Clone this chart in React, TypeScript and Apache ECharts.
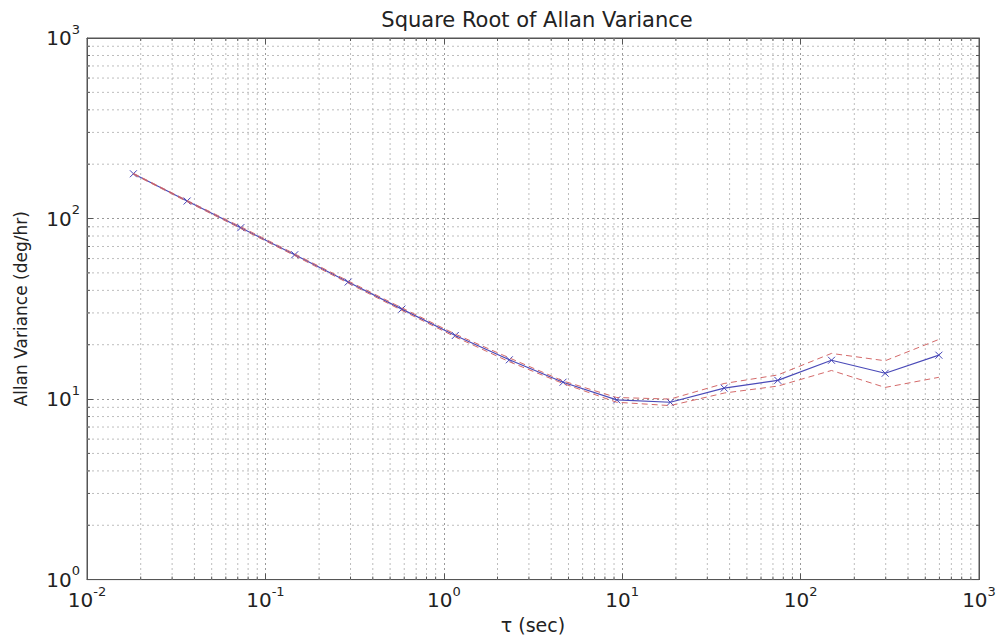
import React, { useEffect, useRef } from "react";
import * as echarts from "echarts";

// averaging time tau (s)
const tau = [0.0182, 0.0364, 0.0728, 0.146, 0.291, 0.582, 1.16, 2.33, 4.66, 9.32, 18.6, 37.3, 74.5, 149, 298, 596];
// square root of Allan variance (deg/hr)
const allanDev = [177, 125, 89, 63, 44.5, 31.5, 22.5, 16.5, 12.4, 9.9, 9.6, 11.5, 12.7, 16.4, 13.9, 17.5];
const upperBound = [178, 126, 90, 63.7, 45.1, 32.0, 22.9, 16.9, 12.6, 10.2, 10.0, 12.2, 13.6, 17.9, 16.3, 21.4];
const lowerBound = [176, 124, 88, 62.3, 43.9, 31.0, 22.1, 16.1, 12.2, 9.6, 9.2, 10.8, 11.8, 14.4, 11.6, 13.2];

// axis structure
const xMin = 0.01;
const xMax = 1000;
const yMin = 1;
const yMax = 1000;
const xDecadeStarts = [0.01, 0.1, 1, 10, 100];
const yDecadeStarts = [1, 10, 100];
const minorMultipliers = [2, 3, 4, 5, 6, 7, 8, 9];

const FONT = "DejaVu Sans";
const TEXT = "#222";
const AXIS = "#555";

const minorX = xDecadeStarts.flatMap((d) => minorMultipliers.map((m) => d * m));
const minorY = yDecadeStarts.flatMap((d) => minorMultipliers.map((m) => d * m));

const powLabel = (v: number) => {
  const e = Math.round(Math.log10(v));
  return `{b|10}{e|${e}}`;
};

const labelRich = {
  b: { fontSize: 20, fontFamily: FONT, color: TEXT },
  e: { fontSize: 13, fontFamily: FONT, color: TEXT, padding: [0, 0, 18, 0] },
};

export default function App() {
  const ref = useRef<HTMLDivElement>(null);

  useEffect(() => {
    if (!ref.current) return;
    const chart = echarts.init(ref.current, undefined, { renderer: "svg" });

    const minorStyle = { stroke: "#bdbdbd", lineWidth: 1, lineDash: [2, 3] };

    const option: any = {
      animation: false,
      backgroundColor: "#fff",
      title: {
        text: "Square Root of Allan Variance",
        left: 532,
        top: 4,
        textAlign: "center",
        textStyle: { fontFamily: FONT, fontSize: 21, fontWeight: "normal", color: TEXT },
      },
      grid: {
        left: 87,
        right: 21,
        top: 38,
        bottom: 55,
        show: true,
        borderColor: AXIS,
        borderWidth: 1,
        backgroundColor: "transparent",
      },
      xAxis: [
        {
          type: "log",
          logBase: 10,
          min: xMin,
          max: xMax,
          position: "bottom",
          name: "τ (sec)",
          nameLocation: "middle",
          nameGap: 35,
          nameTextStyle: { fontFamily: FONT, fontSize: 19, color: TEXT },
          axisLine: { show: true, lineStyle: { color: AXIS } },
          axisTick: { show: true, inside: true, length: 6, lineStyle: { color: AXIS } },
          axisLabel: { formatter: powLabel, rich: labelRich, margin: 5 },
          splitLine: { show: true, lineStyle: { color: "#999", type: [2, 3], width: 1 } },
        },
        {
          type: "log",
          logBase: 10,
          min: xMin,
          max: xMax,
          position: "top",
          axisLine: { show: true, lineStyle: { color: AXIS } },
          axisTick: { show: true, inside: true, length: 6, lineStyle: { color: AXIS } },
          axisLabel: { show: false },
          splitLine: { show: false },
        },
      ],
      yAxis: [
        {
          type: "log",
          logBase: 10,
          min: yMin,
          max: yMax,
          position: "left",
          name: "Allan Variance (deg/hr)",
          nameLocation: "middle",
          nameGap: 58,
          nameTextStyle: { fontFamily: FONT, fontSize: 17, color: TEXT },
          axisLine: { show: true, lineStyle: { color: AXIS } },
          axisTick: { show: true, inside: true, length: 6, lineStyle: { color: AXIS } },
          axisLabel: { formatter: powLabel, rich: labelRich, margin: 7 },
          splitLine: { show: true, lineStyle: { color: "#999", type: [2, 3], width: 1 } },
        },
        {
          type: "log",
          logBase: 10,
          min: yMin,
          max: yMax,
          position: "right",
          axisLine: { show: true, lineStyle: { color: AXIS } },
          axisTick: { show: true, inside: true, length: 6, lineStyle: { color: AXIS } },
          axisLabel: { show: false },
          splitLine: { show: false },
        },
      ],
      series: [
        {
          type: "custom",
          name: "minorX",
          silent: true,
          z: 1,
          xAxisIndex: 0,
          yAxisIndex: 0,
          encode: { x: 0, y: 1 },
          data: minorX.map((v) => [v, yMin]),
          renderItem: (params: any, api: any) => {
            const x = api.coord([api.value(0), yMin])[0];
            const cs = params.coordSys;
            const bottom = cs.y + cs.height;
            return {
              type: "group",
              children: [
                { type: "line", shape: { x1: x, y1: cs.y, x2: x, y2: bottom }, style: minorStyle },
                { type: "line", shape: { x1: x, y1: bottom, x2: x, y2: bottom - 3 }, style: { stroke: AXIS, lineWidth: 1 } },
                { type: "line", shape: { x1: x, y1: cs.y, x2: x, y2: cs.y + 3 }, style: { stroke: AXIS, lineWidth: 1 } },
              ],
            };
          },
        },
        {
          type: "custom",
          name: "minorY",
          silent: true,
          z: 1,
          xAxisIndex: 0,
          yAxisIndex: 0,
          encode: { x: 0, y: 1 },
          data: minorY.map((v) => [xMin, v]),
          renderItem: (params: any, api: any) => {
            const y = api.coord([xMin, api.value(1)])[1];
            const cs = params.coordSys;
            const right = cs.x + cs.width;
            return {
              type: "group",
              children: [
                { type: "line", shape: { x1: cs.x, y1: y, x2: right, y2: y }, style: minorStyle },
                { type: "line", shape: { x1: cs.x, y1: y, x2: cs.x + 3, y2: y }, style: { stroke: AXIS, lineWidth: 1 } },
                { type: "line", shape: { x1: right, y1: y, x2: right - 3, y2: y }, style: { stroke: AXIS, lineWidth: 1 } },
              ],
            };
          },
        },
        {
          type: "line",
          name: "Allan deviation",
          z: 3,
          data: tau.map((t, i) => [t, allanDev[i]]),
          symbol: "path://M0,0L10,10M0,10L10,0",
          symbolSize: 7,
          itemStyle: { color: "none", borderColor: "#4646b8", borderWidth: 1 },
          lineStyle: { color: "#4a4ab8", width: 1.2 },
        },
        {
          type: "line",
          name: "upper bound",
          z: 4,
          data: tau.map((t, i) => [t, upperBound[i]]),
          symbol: "none",
          lineStyle: { color: "#d46a6a", width: 1, type: [6, 4] },
        },
        {
          type: "line",
          name: "lower bound",
          z: 4,
          data: tau.map((t, i) => [t, lowerBound[i]]),
          symbol: "none",
          lineStyle: { color: "#d46a6a", width: 1, type: [6, 4] },
        },
      ],
    };

    chart.setOption(option);
    return () => chart.dispose();
  }, []);

  return (
    <div
      ref={ref}
      style={{ position: "fixed", left: 0, top: 0, width: 1000, height: 639, background: "#fff" }}
    />
  );
}
